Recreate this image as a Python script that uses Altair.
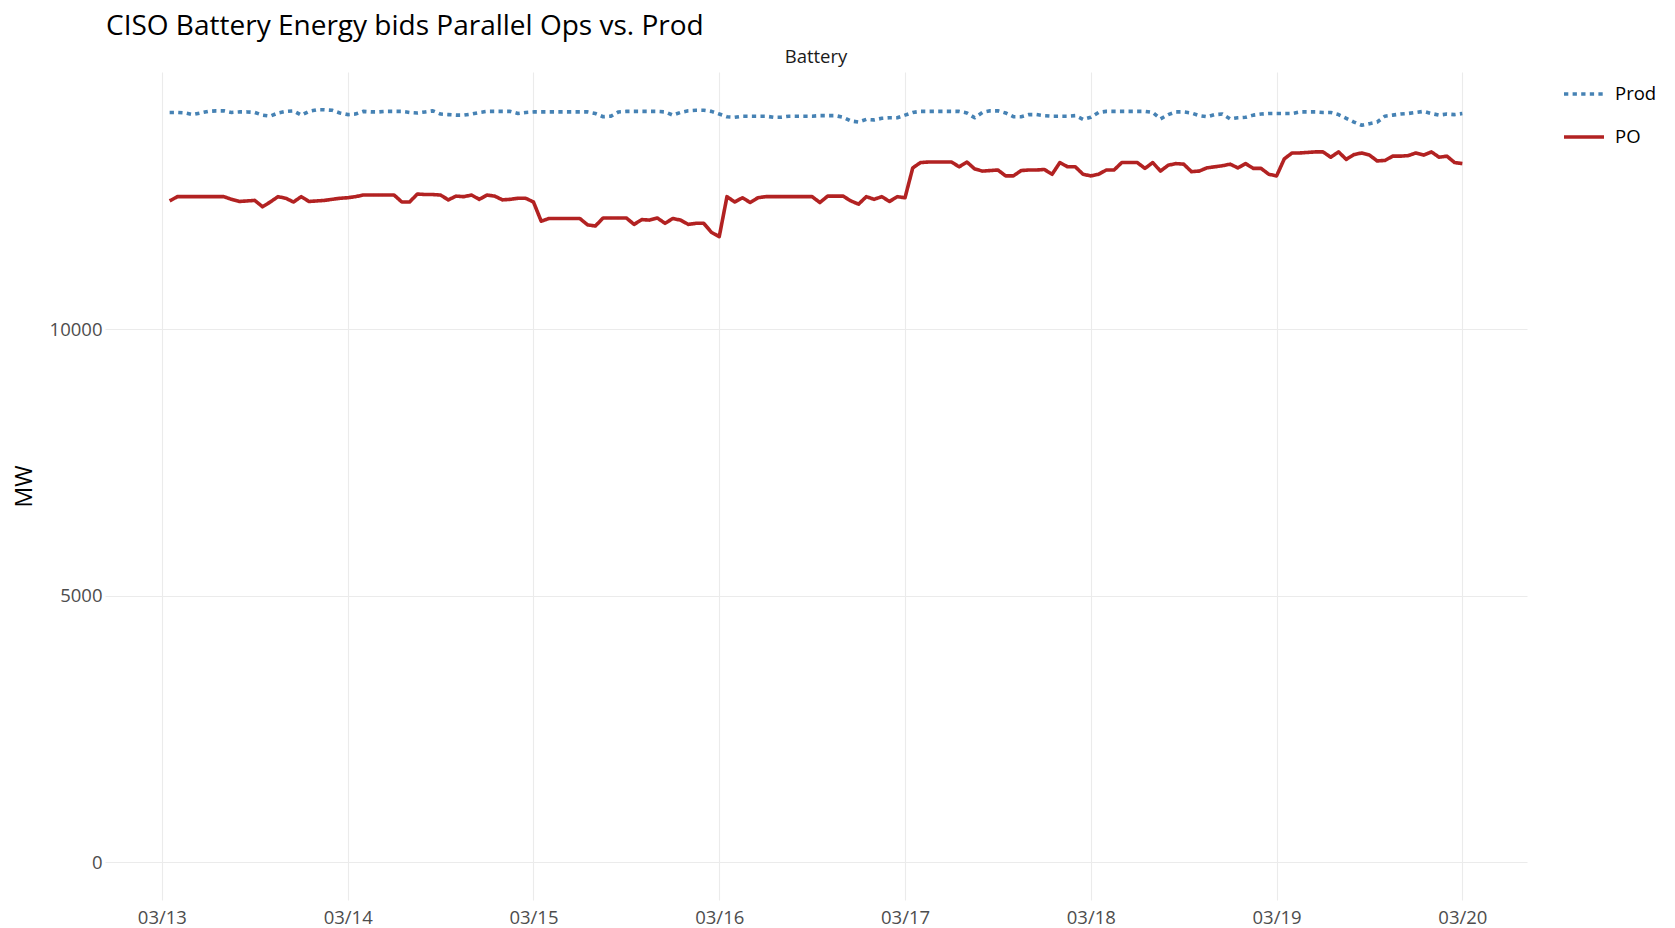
import altair as alt
import pandas as pd

title_text = "CISO Battery Energy bids Parallel Ops vs. Prod"
panel_label = "Battery"
y_axis_title = "MW"
series_names = ["Prod", "PO"]
series_colors = ["#4682B4", "#B22222"]
first_hour = "2024-03-13 01:00"
y_tick_values = [0, 5000, 10000]
x_tick_days = [13, 14, 15, 16, 17, 18, 19, 20]

# hourly values, 03/13 01:00 .. 03/20 00:00 (24 per two rows = one day)
prod_mw = [
    14070, 14070, 14060, 14030, 14060, 14090, 14100, 14100, 14070, 14080, 14080, 14070,
    14020, 14000, 14060, 14090, 14100, 14020, 14090, 14120, 14120, 14110, 14060, 14030,
    14040, 14090, 14080, 14080, 14090, 14090, 14090, 14070, 14060, 14080, 14100, 14040,
    14030, 14020, 14020, 14040, 14070, 14090, 14090, 14090, 14090, 14050, 14070, 14080,
    14080, 14080, 14080, 14080, 14080, 14080, 14080, 14050, 13990, 14000, 14080, 14090,
    14090, 14090, 14090, 14090, 14080, 14020, 14070, 14100, 14110, 14110, 14090, 14040,
    13990, 13980, 14000, 14000, 14000, 14000, 13980, 13980, 14000, 14000, 14000, 14000,
    14010, 14010, 14010, 13980, 13910, 13890, 13940, 13930, 13960, 13970, 13970, 14020,
    14070, 14090, 14090, 14090, 14090, 14090, 14090, 14060, 13970, 14070, 14100, 14100,
    14060, 13990, 13990, 14030, 14030, 14010, 14000, 14000, 14000, 14010, 13940, 13980,
    14070, 14090, 14090, 14090, 14090, 14090, 14090, 14070, 13950, 14030, 14080, 14080,
    14060, 14010, 13990, 14030, 14040, 13950, 13970, 13980, 14020, 14040, 14050, 14050,
    14050, 14050, 14080, 14080, 14080, 14070, 14070, 14030, 13960, 13890, 13830, 13860,
    13890, 14000, 14020, 14040, 14050, 14070, 14090, 14050, 14020, 14040, 14030, 14050,
]
po_mw = [
    12410, 12490, 12490, 12490, 12490, 12490, 12490, 12490, 12440, 12400, 12410, 12420,
    12300, 12390, 12490, 12460, 12390, 12490, 12400, 12410, 12420, 12440, 12460, 12470,
    12490, 12520, 12520, 12520, 12520, 12520, 12390, 12390, 12540, 12530, 12530, 12520,
    12430, 12500, 12490, 12520, 12440, 12520, 12500, 12430, 12440, 12460, 12460, 12390,
    12030, 12080, 12080, 12080, 12080, 12080, 11960, 11940, 12090, 12090, 12090, 12090,
    11970, 12060, 12050, 12090, 11990, 12080, 12050, 11970, 11990, 11990, 11820, 11740,
    12490, 12390, 12470, 12380, 12470, 12490, 12490, 12490, 12490, 12490, 12490, 12490,
    12380, 12500, 12500, 12500, 12410, 12350, 12490, 12440, 12490, 12400, 12490, 12470,
    13030, 13130, 13140, 13140, 13140, 13140, 13050, 13140, 13010, 12970, 12980, 12990,
    12880, 12880, 12980, 12990, 12990, 13000, 12910, 13130, 13050, 13050, 12910, 12880,
    12910, 12990, 12990, 13130, 13130, 13130, 13020, 13130, 12970, 13080, 13110, 13100,
    12960, 12970, 13030, 13050, 13070, 13100, 13030, 13110, 13020, 13020, 12910, 12880,
    13200, 13310, 13310, 13320, 13330, 13330, 13230, 13330, 13190, 13280, 13310, 13270,
    13160, 13170, 13250, 13250, 13260, 13310, 13270, 13330, 13230, 13250, 13130, 13110,
]

times = list(pd.date_range(first_hour, periods=len(prod_mw), freq="h"))
df = pd.DataFrame({
    "time": times + times,
    "MW": prod_mw + po_mw,
    "series": [series_names[0]] * len(prod_mw) + [series_names[1]] * len(po_mw),
})

FONT = "Open Sans"
W, H = 1422, 828

x_dom = [alt.DateTime(year=2024, month=3, date=12, hours=16, minutes=39),
         alt.DateTime(year=2024, month=3, date=20, hours=8, minutes=21)]

legend_cfg = dict(title=None, orient="none", legendX=1457, legendY=0,
                  symbolType="stroke", symbolSize=1600, symbolStrokeWidth=3.6,
                  labelFontSize=18.5, labelFont=FONT, labelColor="#000000",
                  labelOffset=9, rowPadding=11)

lines = alt.Chart(df).mark_line(strokeWidth=3.6, strokeCap="butt", strokeJoin="round").encode(
    x=alt.X("time:T",
            scale=alt.Scale(domain=x_dom),
            axis=alt.Axis(title=None, format="%m/%d",
                          values=[alt.DateTime(year=2024, month=3, date=d) for d in x_tick_days],
                          labelPadding=8)),
    y=alt.Y("MW:Q",
            scale=alt.Scale(domain=[-706, 14829], nice=False, zero=False),
            axis=alt.Axis(title=y_axis_title, values=y_tick_values, format="d", labelPadding=3,
                          titleX=-81, titleY=H / 2, titleAngle=-90, titleAlign="center",
                          titleBaseline="middle", titleFontSize=23, titleColor="#000000",
                          titleFontWeight="normal", titleFont=FONT)),
    color=alt.Color("series:N", sort=series_names,
                    scale=alt.Scale(domain=series_names, range=series_colors),
                    legend=alt.Legend(**legend_cfg)),
    strokeDash=alt.StrokeDash("series:N", sort=series_names,
                              scale=alt.Scale(domain=series_names, range=[[4.3, 4.3], [1, 0]]),
                              legend=alt.Legend(**legend_cfg)),
)

strip = alt.Chart(pd.DataFrame({"label": [panel_label]})).mark_text(
    font=FONT, fontSize=18.5, color="#1A1A1A", align="center", baseline="middle"
).encode(text="label:N", x=alt.value(W / 2), y=alt.value(-15))

chart = alt.layer(lines, strip).properties(
    width=W, height=H,
    autosize=alt.AutoSizeParams(type="none"),
    padding={"left": 97, "top": 64, "right": 130, "bottom": 34},
    title=alt.TitleParams(text=title_text, anchor="start", frame="group", font=FONT,
                          fontSize=28, fontWeight="normal", color="#000000", dx=1, dy=-3),
).configure_axis(
    grid=True, gridColor="#EBEBEB", gridWidth=1.1, domain=False, ticks=False,
    labelFont=FONT, labelFontSize=18.5, labelColor="#4D4D4D",
).configure_view(stroke=None)

chart.save("out.html", embed_options={"renderer": "svg", "actions": False})
